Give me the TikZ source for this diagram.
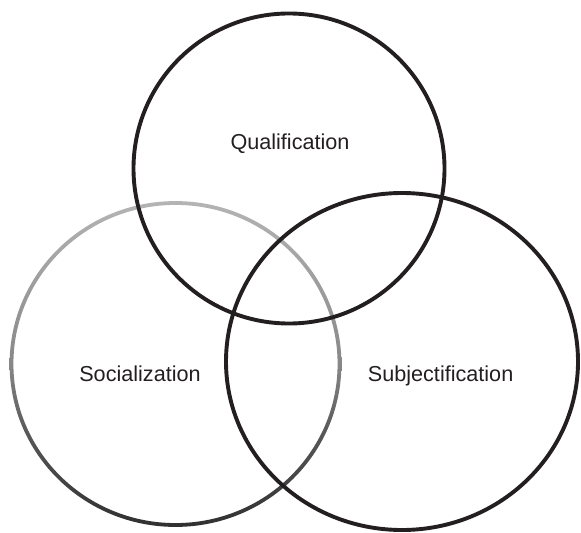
\documentclass[tikz,border=0pt]{standalone}
\usepackage{fontspec}
\setmainfont{Liberation Sans}
\definecolor{ink}{RGB}{35,31,32}
\definecolor{ringtop}{RGB}{180,180,180}
\definecolor{ringmid}{RGB}{136,136,136}
\definecolor{ringlow}{RGB}{90,90,90}
\definecolor{ringbot}{RGB}{48,48,48}
% light grey at the top of the ring, darkening towards the bottom
\pgfdeclareverticalshading{ringfade}{100bp}{%
  color(0bp)=(ringbot); color(25bp)=(ringbot); color(40bp)=(ringlow);
  color(50bp)=(ringmid); color(75bp)=(ringtop); color(100bp)=(ringtop)}
\begin{document}
\begin{tikzpicture}[x=1bp,y=-1bp,
  ring/.style={draw=ink,line width=3.9bp},
  label/.style={text=ink,font=\fontsize{21.7}{26}\selectfont,anchor=base,inner sep=0pt}]
\useasboundingbox (0,0) rectangle (581,533);
% Socialization: shaded ring
\shade[shading=ringfade,even odd rule]
  (175.5,364) ellipse [x radius=165.9,y radius=162.9]
  (175.5,364) ellipse [x radius=162.1,y radius=159.1];
% Subjectification
\draw[ring] (402,361.5) ellipse [x radius=176,y radius=168.5];
% Qualification
\draw[ring] (289,168.5) ellipse [x radius=155.5,y radius=155];
\node[label] (qual) at (290,150) {Qualification};
\node[label] (soc) at (140,381) {Socialization};
\node[label] (subj) at (440.6,381.5) {Subjectification};
\end{tikzpicture}
\end{document}
